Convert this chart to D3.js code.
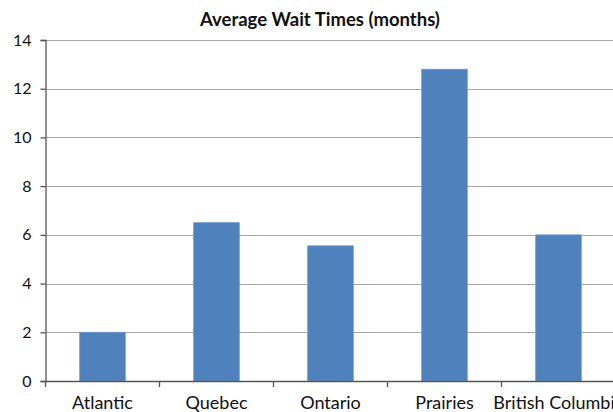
<!DOCTYPE html>
<html>
<head>
<meta charset="utf-8">
<script src="https://cdn.jsdelivr.net/npm/d3@7"></script>
<style>
  body { margin: 0; background: #fff; }
  svg { display: block; }
</style>
</head>
<body>
<div id="chart"></div>
<script>
// data
const regions = ["Atlantic", "Quebec", "Ontario", "Prairies", "British Columbia"];
const waitMonths = [2.0, 6.5, 5.55, 12.8, 6.0];
const yTicks = [0, 2, 4, 6, 8, 10, 12, 14];

const W = 613, H = 412;
// plot box (runs past the right edge, like the original)
const box = { left: 45.5, right: 45.5 + 5 * 114, top: 40, bottom: 381 };

const svg = d3.select("#chart")
  .append("svg")
  .attr("width", W)
  .attr("height", H);

// scales
const x = d3.scaleBand()
  .domain(regions)
  .range([box.left, box.right])
  .paddingInner(0.6)
  .paddingOuter(0.3);

const xCat = d3.scaleBand()
  .domain(regions)
  .range([box.left, box.right])
  .padding(0);

const y = d3.scaleLinear()
  .domain([0, 14])
  .range([box.bottom, box.top]);

// gridlines
svg.append("g")
  .selectAll("line")
  .data(yTicks.filter(d => d > 0))
  .join("line")
  .attr("x1", box.left)
  .attr("x2", box.right)
  .attr("y1", d => Math.round(y(d)) + 0.5)
  .attr("y2", d => Math.round(y(d)) + 0.5)
  .attr("stroke", "#a6a6a6")
  .attr("stroke-width", 1.2);

// bars
svg.append("g")
  .selectAll("rect")
  .data(regions)
  .join("rect")
  .attr("x", d => x(d))
  .attr("y", (d, i) => y(waitMonths[i]))
  .attr("width", x.bandwidth())
  .attr("height", (d, i) => box.bottom - y(waitMonths[i]))
  .attr("fill", "#4f81bd")
  .attr("stroke", "#6f97c9")
  .attr("stroke-width", 0.8);

// y axis
const yAxis = svg.append("g")
  .attr("transform", `translate(${box.left},0)`)
  .call(d3.axisLeft(y).tickValues(yTicks).tickSize(5).tickPadding(9).tickFormat(d3.format("d")));
yAxis.select(".domain").attr("stroke", "#555").attr("stroke-width", 1.3);
yAxis.selectAll(".tick line").attr("stroke", "#555").attr("stroke-width", 1.3);
yAxis.selectAll("text")
  .attr("fill", "#111")
  .style("font-family", "Lato, 'Open Sans', sans-serif")
  .style("font-size", "16px");

// x axis
const xAxis = svg.append("g")
  .attr("transform", `translate(0,${box.bottom})`)
  .call(d3.axisBottom(xCat).tickSize(0).tickPadding(15));
xAxis.select(".domain").attr("stroke", "#555").attr("stroke-width", 1.3);
xAxis.selectAll("text")
  .attr("fill", "#111")
  .style("font-family", "Lato, 'Open Sans', sans-serif")
  .style("font-size", "18px");

// category boundary ticks
svg.append("g")
  .selectAll("line")
  .data(regions)
  .join("line")
  .attr("x1", d => xCat(d))
  .attr("x2", d => xCat(d))
  .attr("y1", box.bottom)
  .attr("y2", box.bottom + 6)
  .attr("stroke", "#555")
  .attr("stroke-width", 1.3);

// title
svg.append("text")
  .attr("x", 320)
  .attr("y", 26)
  .attr("text-anchor", "middle")
  .attr("fill", "#111")
  .style("font-family", "Lato, 'Open Sans', sans-serif")
  .style("font-size", "18.5px")
  .style("font-weight", "bold")
  .text("Average Wait Times (months)");
</script>
</body>
</html>
